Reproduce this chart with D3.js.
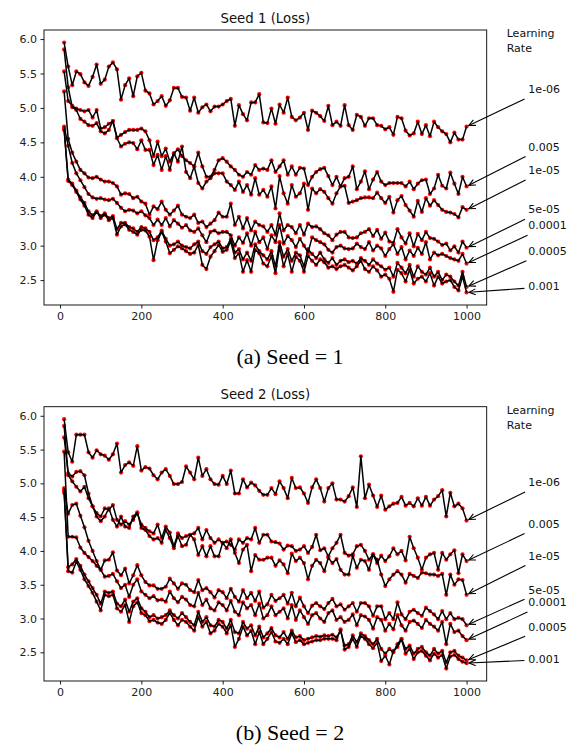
<!DOCTYPE html>
<html>
<head>
<meta charset="utf-8">
<script src="https://cdn.jsdelivr.net/npm/d3@7"></script>
<style>
  body { margin: 0; background: #fff; }
  svg { display: block; }
</style>
</head>
<body>
<script>
// training steps (x axis)
var steps = [10,20,30,40,50,60,70,80,90,100,110,120,130,140,150,160,170,180,190,200,
  210,220,230,240,250,260,270,280,290,300,310,320,330,340,350,360,370,380,390,400,
  410,420,430,440,450,460,470,480,490,500,510,520,530,540,550,560,570,580,590,600,
  610,620,630,640,650,660,670,680,690,700,710,720,730,740,750,760,770,780,790,800,
  810,820,830,840,850,860,870,880,890,900,910,920,930,940,950,960,970,980,990,1000];

var rates = ["1e-06", "0.005", "1e-05", "5e-05", "0.0001", "0.0005", "0.001"];

// ---- Seed 1 losses ----
var seed1Lr1e6 = [5.95,5.60,5.33,5.53,5.49,5.37,5.32,5.45,5.63,5.35, 5.41,5.60,5.66,5.56,5.12,5.33,5.43,5.17,5.46,5.51,
  5.25,5.21,5.05,5.10,5.17,5.03,5.11,5.29,5.29,5.16, 5.15,4.96,5.15,4.93,5.01,5.05,4.95,5.02,5.02,5.05,
  5.10,5.13,4.74,5.04,4.91,4.82,5.08,5.08,5.20,4.79, 4.78,4.99,4.77,5.05,4.93,5.15,4.87,4.82,4.86,4.93,
  4.68,4.96,4.93,4.88,4.81,5.03,4.75,4.80,4.74,5.04, 4.75,4.68,4.90,4.87,4.74,4.85,4.85,4.75,4.74,4.69,
  4.72,4.61,4.87,4.85,4.67,4.60,4.63,4.80,4.62,4.75, 4.59,4.80,4.72,4.66,4.62,4.50,4.64,4.54,4.54,4.73];
var seed1Lr5e3 = [5.53,5.10,5.03,4.99,4.97,4.95,4.97,4.86,4.97,4.70, 4.72,4.77,4.81,4.57,4.61,4.65,4.68,4.68,4.68,4.70,
  4.66,4.53,4.30,4.51,4.30,4.41,4.22,4.34,4.40,4.30, 4.24,4.20,4.15,4.35,4.15,4.00,4.00,4.10,4.24,4.27,
  4.22,4.15,4.10,4.03,4.00,4.07,4.03,4.17,4.10,4.12, 4.10,4.24,4.07,4.15,4.24,4.03,4.15,4.03,4.13,4.12,
  3.88,4.00,4.07,4.11,4.13,4.01,3.88,4.00,3.86,3.98, 4.00,4.15,3.82,3.93,4.08,3.82,3.96,4.07,3.93,3.88,
  3.91,3.91,3.91,3.91,3.86,3.93,3.82,3.90,3.95,3.96, 3.75,3.83,4.03,3.87,3.83,4.06,3.90,3.75,4.00,3.86];
var seed1Lr1e5 = [5.85,5.30,5.01,4.97,4.84,4.80,4.75,4.74,4.78,4.66, 4.63,4.68,4.81,4.56,4.44,4.48,4.50,4.49,4.40,4.53,
  4.39,4.39,4.17,4.32,4.10,4.30,4.10,4.34,4.22,4.44, 4.07,3.98,4.15,3.91,3.83,3.93,3.98,4.05,4.05,4.05,
  3.93,3.88,3.81,3.93,3.78,3.88,3.74,3.98,3.74,3.81, 3.71,3.86,3.54,4.01,3.76,3.61,3.88,3.71,3.76,3.90,
  3.52,3.83,3.76,3.82,3.78,3.69,3.61,3.76,3.86,3.87, 3.62,3.64,3.66,3.69,3.70,3.70,3.69,3.77,3.69,3.62,
  3.71,3.48,3.66,3.72,3.59,3.51,3.42,3.65,3.49,3.69, 3.58,3.66,3.59,3.52,3.49,3.48,3.46,3.41,3.56,3.52];
var seed1Lr5e5 = [5.24,4.55,4.35,4.22,4.10,4.05,3.99,3.98,4.00,3.96, 3.93,3.93,3.91,3.86,3.74,3.76,3.75,3.69,3.71,3.64,
  3.61,3.45,3.57,3.53,3.64,3.52,3.45,3.51,3.58,3.45, 3.42,3.40,3.45,3.33,3.35,3.27,3.32,3.37,3.48,3.42,
  3.42,3.61,3.30,3.42,3.25,3.40,3.22,3.35,3.30,3.28, 3.20,3.30,3.16,3.47,3.22,3.30,3.27,3.18,3.30,3.16,
  3.32,3.27,3.28,3.24,3.18,3.15,3.08,3.16,3.20,3.20, 3.12,3.11,3.12,3.18,3.20,3.24,3.14,3.23,3.10,3.19,
  3.06,3.04,3.24,3.12,3.03,3.18,2.99,3.17,3.08,3.20, 3.11,3.10,3.06,3.01,3.03,2.93,2.99,2.90,3.06,2.97];
var seed1Lr1e4 = [4.73,4.45,4.20,4.05,3.95,3.85,3.75,3.70,3.68,3.69, 3.67,3.66,3.68,3.62,3.55,3.50,3.52,3.51,3.47,3.50,
  3.44,3.40,3.30,3.38,3.30,3.40,3.28,3.37,3.32,3.26, 3.30,3.22,3.20,3.25,3.15,3.05,3.20,3.22,3.18,3.20,
  3.20,3.15,3.00,3.12,3.04,3.18,3.00,3.20,3.05,3.12, 2.95,3.15,3.05,3.30,3.03,3.14,3.08,2.98,3.10,3.00,
  2.90,3.12,3.08,3.05,3.02,2.94,2.90,2.98,3.00,2.96, 2.95,2.96,3.03,2.98,2.95,3.05,2.93,3.00,2.96,2.85,
  2.95,3.02,2.88,2.98,2.80,2.93,2.85,2.97,2.88,3.05, 2.80,2.90,2.86,2.88,2.85,2.82,2.80,2.78,2.88,2.74];
var seed1Lr5e4 = [4.70,3.96,3.90,3.80,3.70,3.62,3.50,3.44,3.50,3.43, 3.47,3.40,3.43,3.24,3.33,3.33,3.27,3.25,3.20,3.27,
  3.25,3.20,3.08,3.12,3.22,3.10,3.00,3.02,3.06,3.00, 2.98,2.96,3.02,3.06,2.92,2.88,2.98,3.02,3.06,2.96,
  2.98,3.10,2.90,2.95,2.80,2.90,2.78,3.02,2.92,2.86, 2.80,2.92,2.70,3.05,2.84,2.95,2.78,2.90,2.86,2.70,
  2.95,2.88,2.82,2.90,2.80,2.75,2.82,2.72,2.78,2.80, 2.76,2.78,2.74,2.82,2.78,2.72,2.80,2.74,2.70,2.65,
  2.68,2.55,2.75,2.68,2.60,2.72,2.55,2.70,2.62,2.58, 2.68,2.55,2.62,2.50,2.58,2.55,2.48,2.42,2.62,2.40];
var seed1Lr1e3 = [4.68,3.94,3.88,3.78,3.67,3.58,3.45,3.40,3.49,3.40, 3.45,3.37,3.40,3.16,3.28,3.31,3.23,3.20,3.16,3.23,
  3.22,3.13,2.79,3.08,3.20,3.06,2.89,2.94,2.99,2.96, 2.92,2.88,2.90,3.01,2.72,2.66,2.84,2.92,3.01,2.91,
  2.94,3.06,2.82,2.89,2.62,2.79,2.62,2.94,2.89,2.74, 2.70,2.85,2.60,2.98,2.70,2.88,2.62,2.84,2.78,2.62,
  2.85,2.78,2.72,2.80,2.76,2.68,2.70,2.66,2.70,2.72, 2.68,2.64,2.70,2.78,2.66,2.62,2.70,2.64,2.55,2.58,
  2.52,2.33,2.65,2.60,2.48,2.65,2.45,2.52,2.55,2.48, 2.60,2.42,2.55,2.45,2.48,2.50,2.40,2.35,2.55,2.32];

// ---- Seed 2 losses ----
var seed2Lr1e6 = [5.95,5.46,5.32,5.72,5.72,5.72,5.46,5.38,5.49,5.43, 5.41,5.35,5.43,5.59,5.16,5.27,5.31,5.26,5.55,5.19,
  5.24,5.22,5.12,5.06,5.16,5.21,5.11,4.99,4.99,5.02, 5.25,5.16,5.06,5.38,5.11,5.21,5.06,4.99,4.98,5.11,
  4.99,5.19,4.85,4.85,5.06,4.94,5.01,4.97,4.89,4.83, 4.83,4.93,4.84,5.03,4.93,4.78,5.08,4.93,4.94,4.85,
  4.71,4.94,5.06,4.93,4.73,4.93,5.00,4.76,4.76,4.73, 4.81,4.94,4.65,5.40,4.78,4.98,4.82,4.65,4.82,4.61,
  4.66,4.70,4.71,4.80,4.67,4.71,4.66,4.78,4.67,4.80, 4.67,4.76,4.81,4.90,4.51,4.86,4.66,4.70,4.63,4.45];
var seed2Lr5e3 = [5.68,5.15,5.10,5.17,5.18,5.12,4.85,4.66,4.56,4.51, 4.63,4.61,4.68,4.46,4.39,4.44,4.39,4.46,4.56,4.39,
  4.34,4.29,4.26,4.39,4.19,4.36,4.27,4.07,4.26,4.19, 4.22,4.24,4.26,4.34,4.17,4.31,4.19,4.12,4.17,4.12,
  4.14,4.09,4.02,4.17,4.12,4.19,4.17,4.34,4.12,4.24, 4.24,4.14,4.13,4.11,4.02,4.08,4.07,4.00,4.02,4.07,
  3.97,4.06,4.24,4.01,4.04,3.92,4.04,4.12,4.24,3.97, 3.93,3.95,4.07,4.09,4.00,3.87,3.95,3.82,3.93,3.85,
  3.92,4.04,3.95,4.00,3.86,4.21,4.04,3.90,3.72,3.90, 3.95,3.97,3.72,3.97,3.87,3.95,4.01,3.67,3.95,3.85];
var seed2Lr1e5 = [5.85,5.12,5.03,4.95,4.88,4.95,4.78,4.66,4.51,4.44, 4.51,4.63,4.46,4.36,4.51,4.36,4.34,4.51,4.57,4.34,
  4.31,4.22,4.17,4.19,4.12,4.31,4.19,4.04,4.22,4.07, 4.09,4.24,4.17,3.94,4.07,3.92,4.07,3.92,3.92,4.12,
  4.04,4.17,3.97,3.82,4.02,4.09,3.70,3.94,3.87,3.87, 3.90,3.90,3.78,3.86,3.80,3.67,3.96,3.85,3.90,3.82,
  3.58,3.78,3.87,3.82,3.70,3.90,3.82,3.88,3.72,3.65, 3.65,3.93,3.75,3.87,3.85,3.72,3.95,3.87,3.65,3.48,
  3.58,3.65,3.70,3.65,3.53,3.66,3.63,3.60,3.68,3.67, 3.65,3.65,3.63,3.66,3.35,3.65,3.50,3.58,3.57,3.35];
var seed2Lr5e5 = [5.47,4.21,4.21,4.20,4.05,3.97,3.91,3.85,3.78,3.72, 3.86,3.87,3.98,3.71,3.64,3.74,3.52,3.64,3.79,3.64,
  3.54,3.49,3.49,3.44,3.44,3.47,3.59,3.52,3.44,3.52, 3.50,3.42,3.39,3.57,3.42,3.45,3.39,3.31,3.42,3.39,
  3.30,3.44,3.32,3.25,3.42,3.30,3.38,3.26,3.40,3.16, 3.21,3.35,3.26,3.30,3.35,3.22,3.38,3.18,3.31,3.18,
  3.08,3.19,3.23,3.18,3.14,3.23,3.29,3.18,3.21,3.13, 3.18,3.23,3.10,3.23,3.23,3.18,3.04,3.18,3.18,2.99,
  3.08,2.99,3.24,3.06,2.99,3.10,3.13,3.08,3.04,3.16, 3.11,3.06,2.99,3.11,2.99,3.08,2.99,3.01,2.99,2.90];
var seed2Lr1e4 = [4.93,4.55,4.68,4.70,4.52,4.35,4.15,4.00,3.85,3.72, 3.62,3.63,3.66,3.55,3.45,3.50,3.32,3.50,3.58,3.40,
  3.35,3.30,3.33,3.27,3.28,3.25,3.40,3.30,3.24,3.32, 3.28,3.20,3.18,3.38,3.20,3.28,3.15,3.12,3.24,3.20,
  3.12,3.26,3.10,3.05,3.24,3.15,3.20,3.05,3.22,3.00, 3.05,3.18,3.05,3.10,3.15,3.00,3.20,2.98,3.12,3.02,
  2.92,3.05,3.08,3.00,2.95,3.08,3.12,2.98,3.02,2.95, 2.98,3.06,2.90,3.05,3.03,2.98,2.85,3.02,2.98,2.82,
  2.92,2.84,3.05,2.90,2.82,2.95,2.97,2.92,2.86,2.98, 2.92,2.88,2.82,2.95,2.62,2.92,2.80,2.82,2.74,2.68];
var seed2Lr5e4 = [4.86,3.76,3.80,3.88,3.78,3.65,3.55,3.45,3.35,3.22, 3.40,3.38,3.40,3.22,3.18,3.28,3.10,3.25,3.30,3.15,
  3.10,3.02,3.05,3.00,3.02,3.05,3.12,3.05,3.00,3.08, 3.02,2.95,2.90,3.10,2.95,3.02,2.90,2.88,2.98,2.95,
  2.85,2.98,2.80,2.78,2.95,2.85,2.90,2.75,2.88,2.72, 2.78,2.86,2.75,2.72,2.80,2.70,2.82,2.72,2.74,2.68,
  2.70,2.72,2.74,2.73,2.75,2.74,2.76,2.72,2.82,2.60, 2.62,2.75,2.65,2.78,2.74,2.68,2.62,2.70,2.55,2.48,
  2.55,2.50,2.62,2.70,2.55,2.60,2.48,2.55,2.58,2.50, 2.45,2.55,2.48,2.52,2.35,2.50,2.52,2.45,2.42,2.38];
var seed2Lr1e3 = [4.90,3.70,3.68,3.84,3.72,3.58,3.48,3.38,3.25,3.12, 3.35,3.33,3.35,3.15,3.10,3.20,2.95,3.18,3.24,3.08,
  3.05,2.96,2.98,2.94,2.92,2.98,3.08,2.98,2.90,2.98, 2.95,2.88,2.82,3.02,2.88,2.95,2.78,2.82,2.92,2.88,
  2.78,2.90,2.58,2.70,2.88,2.75,2.82,2.62,2.80,2.62, 2.70,2.80,2.66,2.64,2.70,2.62,2.78,2.65,2.68,2.62,
  2.64,2.66,2.68,2.68,2.70,2.70,2.70,2.68,2.84,2.54, 2.58,2.70,2.58,2.74,2.70,2.62,2.56,2.64,2.37,2.45,
  2.32,2.52,2.58,2.69,2.48,2.55,2.40,2.50,2.52,2.45, 2.38,2.48,2.42,2.46,2.26,2.44,2.46,2.40,2.36,2.34];

var seed1Series = [seed1Lr1e6, seed1Lr5e3, seed1Lr1e5, seed1Lr5e5, seed1Lr1e4, seed1Lr5e4, seed1Lr1e3];
var seed2Series = [seed2Lr1e6, seed2Lr5e3, seed2Lr1e5, seed2Lr5e5, seed2Lr1e4, seed2Lr5e4, seed2Lr1e3];

var xTicks = [0, 200, 400, 600, 800, 1000];
var yTicks = [2.5, 3.0, 3.5, 4.0, 4.5, 5.0, 5.5, 6.0];

var width = 575, height = 747;
var svg = d3.select("body")
    .append("svg")
    .attr("width", width)
    .attr("height", height)
    .style("font-family", "'DejaVu Sans', sans-serif");

drawPanel({
    top: 30, bottom: 305,
    title: "Seed 1 (Loss)",
    caption: "(a) Seed = 1", captionY: 364,
    series: seed1Series,
    // label text positions (data units, like matplotlib xytext)
    labelY: [5.272, 4.437, 4.094, 3.525, 3.293, 2.921, 2.405]
});
drawPanel({
    top: 406.7, bottom: 681,
    title: "Seed 2 (Loss)",
    caption: "(b) Seed = 2", captionY: 740,
    series: seed2Series,
    labelY: [5.016, 4.399, 3.930, 3.422, 3.240, 2.879, 2.397]
});

function drawPanel(p) {
    var left = 44, right = 486.7;
    var all = p.series.flat();
    var yMin = d3.min(all), yMax = d3.max(all), yPad = (yMax - yMin) * 0.05;
    var xMin = d3.min(steps), xMax = d3.max(steps), xPad = (xMax - xMin) * 0.05;

    var x = d3.scaleLinear().domain([xMin - xPad, xMax + xPad]).range([left, right]);
    var y = d3.scaleLinear().domain([yMin - yPad, yMax + yPad]).range([p.bottom, p.top]);

    var g = svg.append("g");

    // axes
    var xAxis = g.append("g")
        .attr("transform", "translate(0," + p.bottom + ")")
        .call(d3.axisBottom(x).tickValues(xTicks).tickSize(3.5).tickPadding(3.5).tickFormat(d3.format("d")));
    var yAxis = g.append("g")
        .attr("transform", "translate(" + left + ",0)")
        .call(d3.axisLeft(y).tickValues(yTicks).tickSize(3.5).tickPadding(3.5).tickFormat(d3.format(".1f")));
    [xAxis, yAxis].forEach(function (a) {
        a.attr("font-family", "'DejaVu Sans', sans-serif").attr("font-size", 11);
        a.select(".domain").remove();
        a.selectAll(".tick line").attr("stroke", "#000").attr("stroke-width", 0.9);
        a.selectAll(".tick text").attr("fill", "#222");
    });

    // frame
    g.append("rect")
        .attr("x", left).attr("y", p.top)
        .attr("width", right - left).attr("height", p.bottom - p.top)
        .attr("fill", "none").attr("stroke", "#000").attr("stroke-width", 0.9);

    // title
    g.append("text")
        .attr("x", (left + right) / 2).attr("y", p.top - 7.5)
        .attr("text-anchor", "middle").attr("font-size", 13.3).attr("fill", "#111")
        .text(p.title);

    // red markers, then black lines on top
    var line = d3.line().x(function (d, i) { return x(steps[i]); }).y(function (d) { return y(d); });
    p.series.forEach(function (s) {
        g.append("g").selectAll("circle").data(s).enter().append("circle")
            .attr("cx", function (d, i) { return x(steps[i]); })
            .attr("cy", function (d) { return y(d); })
            .attr("r", 2.1)
            .attr("fill", "#ff0000");
    });
    p.series.forEach(function (s) {
        g.append("path").datum(s)
            .attr("d", line)
            .attr("fill", "none").attr("stroke", "#000").attr("stroke-width", 1.5)
            .attr("stroke-linejoin", "round");
    });

    // legend header
    g.append("text").attr("x", 506.7).attr("y", p.top + 7.3).attr("font-size", 11).attr("fill", "#111").text("Learning");
    g.append("text").attr("x", 506.7).attr("y", p.top + 22).attr("font-size", 11).attr("fill", "#111").text("Rate");

    // annotations with arrows to last point of each line
    var labelX = x(1152);
    rates.forEach(function (r, k) {
        var t = g.append("text")
            .attr("x", labelX).attr("y", y(p.labelY[k]))
            .attr("dy", "0.35em")
            .attr("font-size", 11).attr("fill", "#111")
            .text(r);
        var bb = t.node().getBBox();
        var pad = 2;
        var x0 = bb.x - pad, x1 = bb.x + bb.width + pad, y0 = bb.y - pad, y1 = bb.y + bb.height + pad;
        var cx = bb.x + bb.width / 2, cy = bb.y + bb.height / 2;
        var s = p.series[k];
        var tx = x(steps[steps.length - 1]), ty = y(s[s.length - 1]);
        var dx = tx - cx, dy = ty - cy, len = Math.sqrt(dx * dx + dy * dy);
        var ux = dx / len, uy = dy / len;
        var tX = dx < 0 ? (x0 - cx) / dx : (x1 - cx) / dx;
        var tY = dy === 0 ? Infinity : (dy < 0 ? (y0 - cy) / dy : (y1 - cy) / dy);
        var tt = Math.min(tX, tY);
        var sx = cx + tt * dx + ux * 2, sy = cy + tt * dy + uy * 2;
        var ex = tx - ux * 2.5, ey = ty - uy * 2.5;
        g.append("line")
            .attr("x1", sx).attr("y1", sy).attr("x2", ex).attr("y2", ey)
            .attr("stroke", "#000").attr("stroke-width", 1.1);
        // open arrow head "->"
        var hl = 6.5, hw = 3;
        var bx = ex - ux * hl, by = ey - uy * hl;
        g.append("path")
            .attr("d", "M" + (bx - uy * hw) + "," + (by + ux * hw) + "L" + ex + "," + ey + "L" + (bx + uy * hw) + "," + (by - ux * hw))
            .attr("fill", "none").attr("stroke", "#000").attr("stroke-width", 1.1);
    });

    // caption
    svg.append("text")
        .attr("x", 290).attr("y", p.captionY)
        .attr("text-anchor", "middle")
        .attr("font-family", "'Liberation Serif', 'Times New Roman', serif")
        .attr("font-size", 22).attr("fill", "#000")
        .text(p.caption);
}
</script>
</body>
</html>
